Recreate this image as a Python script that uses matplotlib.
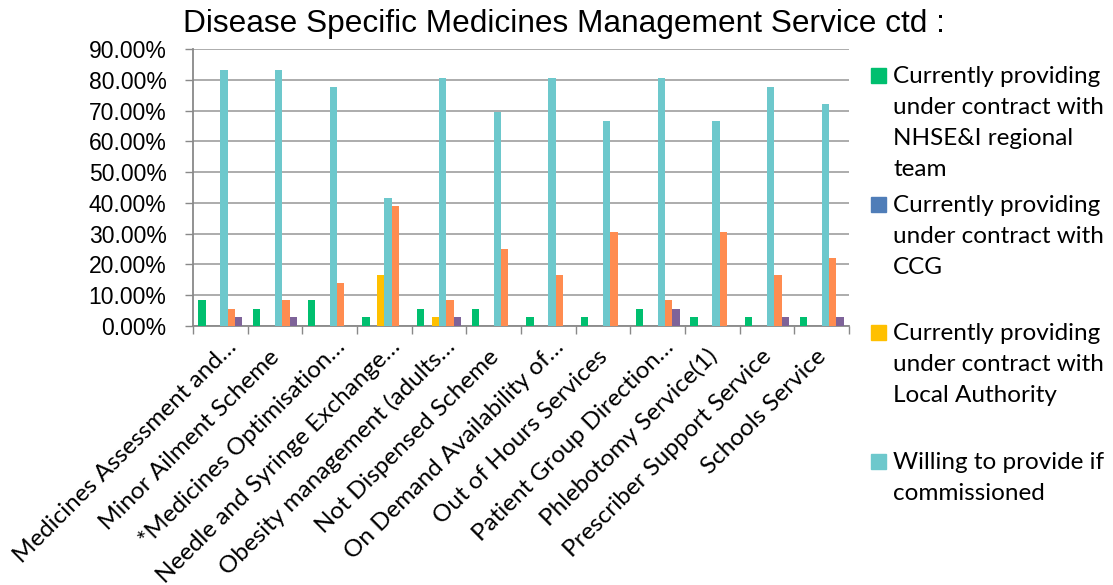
import numpy as np
import matplotlib
matplotlib.use("Agg")
import matplotlib.pyplot as plt
from matplotlib.patches import Rectangle
from matplotlib.transforms import ScaledTranslation

# data (percent of respondents)
categories = ["Medicines Assessment and\u2026", "Minor Ailment Scheme",
              "*Medicines Optimisation\u2026", "Needle and Syringe Exchange\u2026",
              "Obesity management (adults\u2026", "Not Dispensed Scheme",
              "On Demand Availability of\u2026", "Out of Hours Services",
              "Patient Group Direction\u2026", "Phlebotomy Service(1)",
              "Prescriber Support Service", "Schools Service"]

nhsei_vals = [8.33, 5.56, 8.33, 2.78, 5.56, 5.56, 2.78, 2.78, 5.56, 2.78, 2.78, 2.78]
ccg_vals = [0, 0, 0, 0, 0, 0, 0, 0, 0, 0, 0, 0]
la_vals = [0, 0, 0, 16.67, 2.78, 0, 0, 0, 0, 0, 0, 0]
willing_vals = [83.33, 83.33, 77.78, 41.67, 80.56, 69.44, 80.56, 66.67, 80.56, 66.67, 77.78, 72.22]
orange_vals = [5.56, 8.33, 13.89, 38.89, 8.33, 25.00, 16.67, 30.56, 8.33, 30.56, 16.67, 22.22]
purple_vals = [2.78, 2.78, 0, 0, 2.78, 0, 0, 0, 5.56, 0, 2.78, 2.78]

legend_labels = ["Currently providing\nunder contract with\nNHSE&I regional\nteam",
                 "Currently providing\nunder contract with\nCCG",
                 "Currently providing\nunder contract with\nLocal Authority",
                 "Willing to provide if\ncommissioned"]

yticks = [0, 10, 20, 30, 40, 50, 60, 70, 80, 90]

title = "Disease Specific Medicines Management Service ctd :"

series = [nhsei_vals, ccg_vals, la_vals, willing_vals, orange_vals, purple_vals]
colors = ["#00BF6F", "#4F7DB8", "#FFC000", "#6DC8CC", "#FF8C50", "#7E6399"]

W, H = 1113, 585
fig = plt.figure(figsize=(W / 100, H / 100), dpi=100)
ax = fig.add_axes([193 / W, 1 - 326 / H, (849 - 193) / W, (326 - 49) / H])

n = len(categories)
x = np.arange(n)
bw = 1 / 7.5   # 6 bars + 1.5 bar gap per category
for j, (vals, c) in enumerate(zip(series, colors)):
    ax.bar(x + 0.75 * bw + (j + 0.5) * bw, vals, width=bw, color=c, zorder=3)

ax.set_xlim(0, n)
ax.set_ylim(0, 90)
ax.set_yticks(yticks)
ax.set_yticklabels([f"{v:.2f}%" for v in yticks], family="Liberation Sans", fontsize=16.5)
ax.yaxis.grid(True, color="#A6A6A6", linewidth=1.3, zorder=0)
ax.tick_params(axis="y", length=6, width=1, color="#898989", pad=13)

# ticks on category boundaries, labels at centres
ax.set_xticks(np.arange(n + 1))
ax.set_xticklabels([])
ax.tick_params(axis="x", which="major", length=6, width=1, color="#898989")
ax.set_xticks(x + 0.5, minor=True)
ax.set_xticklabels(categories, minor=True, rotation=45, ha="right", va="baseline",
                   rotation_mode="anchor", family="Lato", fontsize=17.5)
ax.tick_params(axis="x", which="minor", length=0, pad=0)
# Excel lets the truncated labels run a bit further up the diagonal
for lab in ax.get_xticklabels(minor=True):
    if lab.get_text().endswith("\u2026"):
        off = ScaledTranslation(0.17, -0.22, fig.dpi_scale_trans)
    else:
        off = ScaledTranslation(0.06, -0.32, fig.dpi_scale_trans)
    lab.set_transform(lab.get_transform() + off)

for s in ["top", "right"]:
    ax.spines[s].set_visible(False)
for s in ["left", "bottom"]:
    ax.spines[s].set_color("#898989")
    ax.spines[s].set_linewidth(1.3)

fig.text(564 / W, 1 - 32 / H, title, ha="center", va="baseline",
         family="Liberation Sans", fontsize=22.8)

# legend drawn by hand, Excel style (marker on first line)
entry_base = [83, 212, 340, 469]
for lbl, c, y0 in zip(legend_labels, colors[:4], entry_base):
    fig.patches.append(Rectangle((871 / W, 1 - y0 / H), 15 / W, 15 / H,
                                 transform=fig.transFigure, color=c))
    for k, line in enumerate(lbl.split("\n")):
        fig.text(893 / W, 1 - (y0 + 31 * k) / H, line, ha="left", va="baseline",
                 family="Lato", fontsize=17.5)

fig.savefig("out.png", dpi=100)
